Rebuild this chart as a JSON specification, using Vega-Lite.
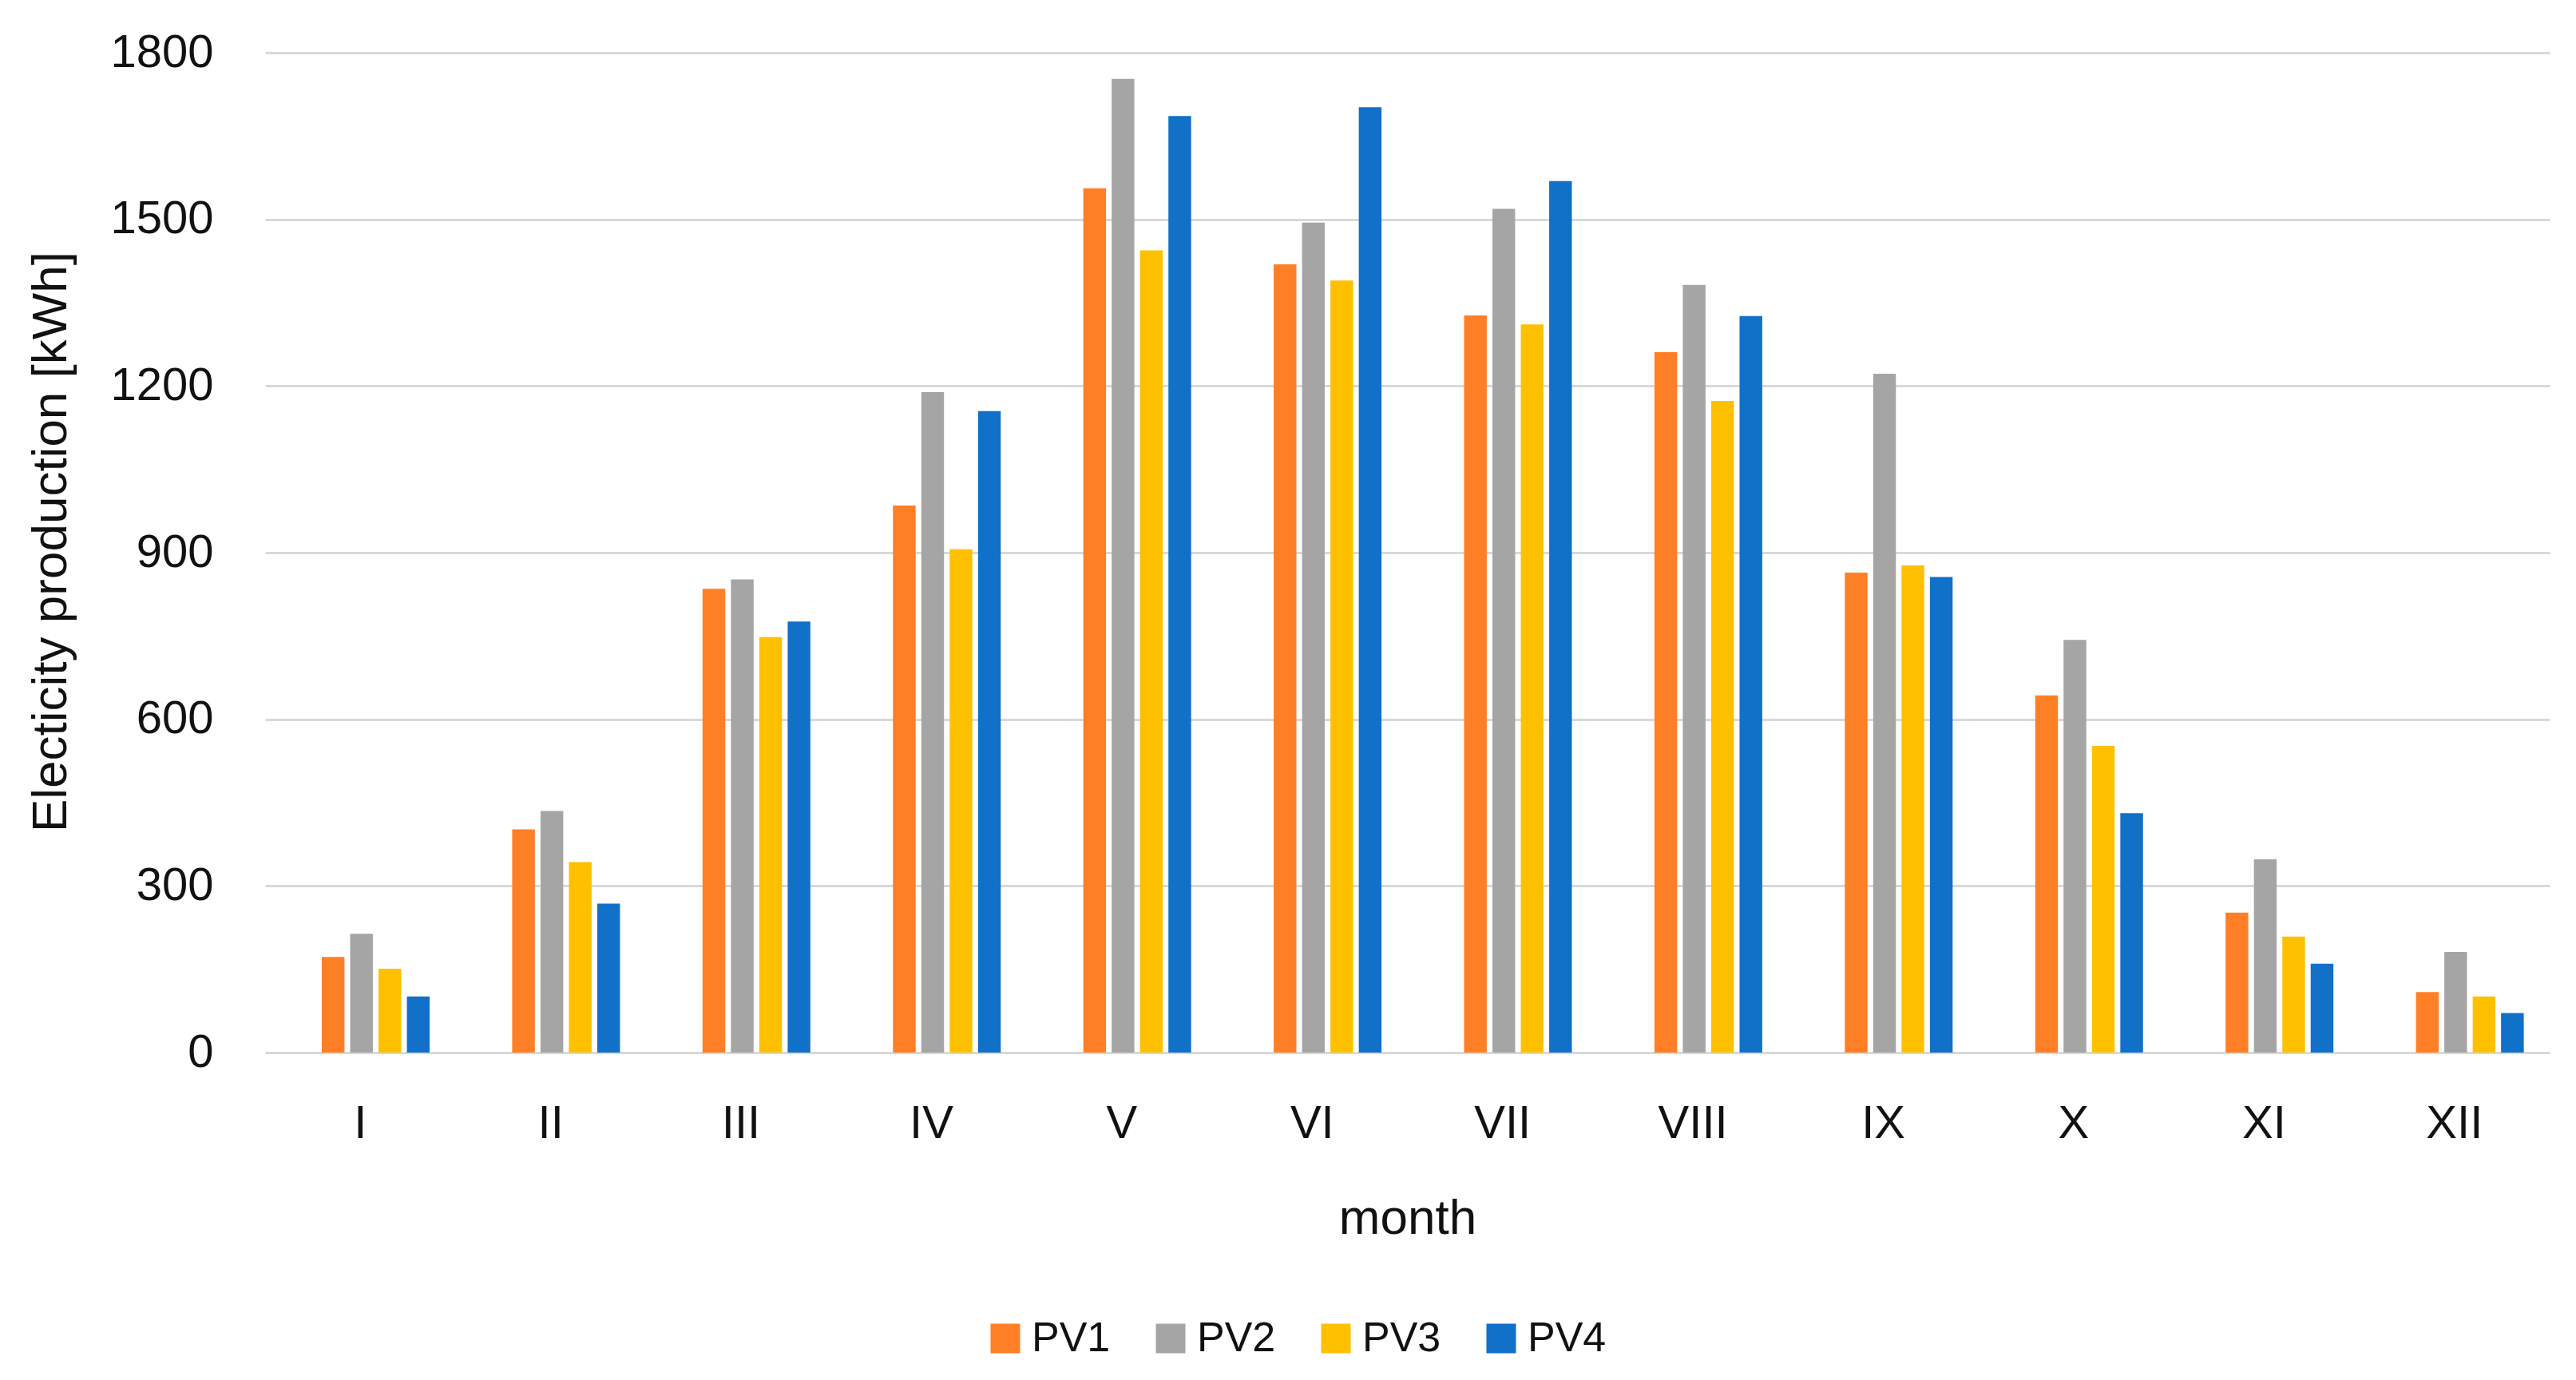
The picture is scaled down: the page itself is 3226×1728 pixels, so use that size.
{
  "$schema": "https://vega.github.io/schema/vega-lite/v6.json",
  "description": "Monthly electricity production of four PV installations.",
  "width": 2861,
  "height": 1252,
  "autosize": {"type": "none"},
  "padding": {"left": 332, "top": 66, "right": 33, "bottom": 410},
  "background": "white",
  "data": {
    "values": [
      {"month": "I", "series": "PV1", "value": 172},
      {"month": "I", "series": "PV2", "value": 214},
      {"month": "I", "series": "PV3", "value": 151},
      {"month": "I", "series": "PV4", "value": 101},
      {"month": "II", "series": "PV1", "value": 402},
      {"month": "II", "series": "PV2", "value": 435},
      {"month": "II", "series": "PV3", "value": 343},
      {"month": "II", "series": "PV4", "value": 268},
      {"month": "III", "series": "PV1", "value": 835},
      {"month": "III", "series": "PV2", "value": 852},
      {"month": "III", "series": "PV3", "value": 748},
      {"month": "III", "series": "PV4", "value": 776},
      {"month": "IV", "series": "PV1", "value": 985},
      {"month": "IV", "series": "PV2", "value": 1189},
      {"month": "IV", "series": "PV3", "value": 906},
      {"month": "IV", "series": "PV4", "value": 1155},
      {"month": "V", "series": "PV1", "value": 1556},
      {"month": "V", "series": "PV2", "value": 1753},
      {"month": "V", "series": "PV3", "value": 1444},
      {"month": "V", "series": "PV4", "value": 1686},
      {"month": "VI", "series": "PV1", "value": 1419},
      {"month": "VI", "series": "PV2", "value": 1494},
      {"month": "VI", "series": "PV3", "value": 1390},
      {"month": "VI", "series": "PV4", "value": 1702},
      {"month": "VII", "series": "PV1", "value": 1327},
      {"month": "VII", "series": "PV2", "value": 1519},
      {"month": "VII", "series": "PV3", "value": 1311},
      {"month": "VII", "series": "PV4", "value": 1569},
      {"month": "VIII", "series": "PV1", "value": 1261},
      {"month": "VIII", "series": "PV2", "value": 1382},
      {"month": "VIII", "series": "PV3", "value": 1173},
      {"month": "VIII", "series": "PV4", "value": 1326},
      {"month": "IX", "series": "PV1", "value": 864},
      {"month": "IX", "series": "PV2", "value": 1222},
      {"month": "IX", "series": "PV3", "value": 877},
      {"month": "IX", "series": "PV4", "value": 856},
      {"month": "X", "series": "PV1", "value": 643},
      {"month": "X", "series": "PV2", "value": 743},
      {"month": "X", "series": "PV3", "value": 552},
      {"month": "X", "series": "PV4", "value": 431},
      {"month": "XI", "series": "PV1", "value": 252},
      {"month": "XI", "series": "PV2", "value": 348},
      {"month": "XI", "series": "PV3", "value": 209},
      {"month": "XI", "series": "PV4", "value": 160},
      {"month": "XII", "series": "PV1", "value": 109},
      {"month": "XII", "series": "PV2", "value": 181},
      {"month": "XII", "series": "PV3", "value": 101},
      {"month": "XII", "series": "PV4", "value": 71}
    ]
  },
  "mark": {"type": "bar"},
  "encoding": {
    "x": {
      "field": "month",
      "type": "nominal",
      "sort": ["I", "II", "III", "IV", "V", "VI", "VII", "VIII", "IX", "X", "XI", "XII"],
      "scale": {"paddingInner": 0, "paddingOuter": 0},
      "axis": {
        "title": "month",
        "labelAngle": 0,
        "labelFontSize": 58,
        "labelPadding": 60,
        "ticks": false,
        "tickSize": 0,
        "domain": false,
        "grid": false,
        "titleFontSize": 62,
        "titleBaseline": "alphabetic",
        "titleY": 226
      }
    },
    "xOffset": {
      "field": "series",
      "type": "nominal",
      "scale": {"range": [71, 206], "paddingInner": 0.2, "paddingOuter": 0}
    },
    "y": {
      "field": "value",
      "type": "quantitative",
      "scale": {"domain": [0, 1800], "nice": false},
      "axis": {
        "title": "Electicity production [kWh]",
        "values": [0, 300, 600, 900, 1200, 1500, 1800],
        "format": "d",
        "labelFontSize": 58,
        "labelPadding": 65,
        "ticks": false,
        "tickSize": 0,
        "domain": false,
        "grid": true,
        "gridColor": "#D9D9D9",
        "gridWidth": 3,
        "titleFontSize": 62,
        "titleBaseline": "alphabetic",
        "titleX": -250,
        "titleY": 612
      }
    },
    "color": {
      "field": "series",
      "type": "nominal",
      "scale": {
        "domain": ["PV1", "PV2", "PV3", "PV4"],
        "range": ["#FF7F27", "#A5A5A5", "#FFC000", "#1170C8"]
      },
      "legend": {
        "title": null,
        "orient": "none",
        "direction": "horizontal",
        "columns": 4,
        "legendX": 901,
        "legendY": 1584,
        "padding": 0,
        "symbolType": "square",
        "symbolSize": 1369,
        "symbolStrokeWidth": 0,
        "labelFontSize": 52,
        "labelOffset": 7,
        "columnPadding": 49
      }
    }
  },
  "config": {
    "font": "Liberation Sans",
    "view": {"stroke": null},
    "axis": {
      "labelColor": "#111111",
      "titleColor": "#111111",
      "titleFontWeight": "normal"
    },
    "legend": {"labelColor": "#111111"}
  }
}
